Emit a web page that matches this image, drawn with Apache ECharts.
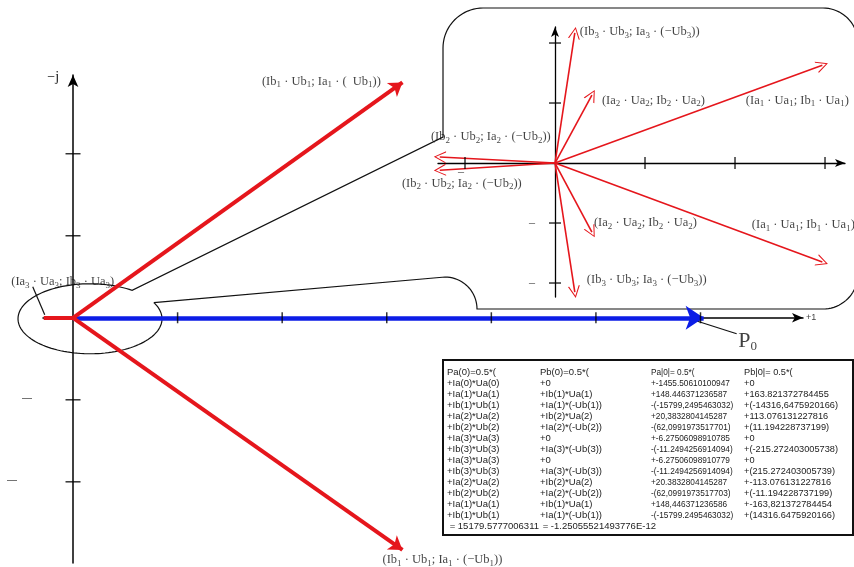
<!DOCTYPE html>
<html><head><meta charset="utf-8">
<script src="https://cdn.jsdelivr.net/npm/echarts@6/dist/echarts.min.js"></script>
<style>html,body{margin:0;padding:0;background:#fff}#c{width:854px;height:567px}</style>
</head><body><div id="c"></div>
<script>
// ---------------- data ----------------
// main phasor diagram (units of the main axes)
const mainVecX = [3.15, 3.15, -0.28];
const mainVecY = [2.87, -2.83, 0];
const mainVecLabels = [
  '(Ib_1 · Ub_1; Ia_1 · (  Ub_1))',
  '(Ib_1 · Ub_1; Ia_1 · (−Ub_1))',
  '(Ia_3 · Ua_3; Ib_3 · Ua_3)'
];
const p0Vec = [6.03, 0];
const mainXTicks = [1, 2, 3, 4, 5, 6];
const mainYTicks = [2, 1, -1, -2];
const mainDashTicks = [-1, -2];
const mainDashLabels = ['—', '—'];

// zoomed inset (units of the inset axes)
const insetVecX = [0.22, 0.41, 2.97, -1.28, -1.28, 0.41, 0.22, 2.97];
const insetVecY = [2.17, 1.13, 1.63, 0.10, -0.12, -1.15, -2.15, -1.65];
const insetVecLabels = [
  '(Ib_3 · Ub_3; Ia_3 · (−Ub_3))',
  '(Ia_2 · Ua_2; Ib_2 · Ua_2)',
  '(Ia_1 · Ua_1; Ib_1 · Ua_1)',
  '(Ib_2 · Ub_2; Ia_2 · (−Ub_2))',
  '(Ib_2 · Ub_2; Ia_2 · (−Ub_2))',
  '(Ia_2 · Ua_2; Ib_2 · Ua_2)',
  '(Ib_3 · Ub_3; Ia_3 · (−Ub_3))',
  '(Ia_1 · Ua_1; Ib_1 · Ua_1)'
];
const insetXTicks = [-1, 1, 2, 3];
const insetYTicks = [2, 1, -1, -2];

// table text
const tableCol1 = ['Pa(0)=0.5*(', '+Ia(0)*Ua(0)', '+Ia(1)*Ua(1)', '+Ib(1)*Ub(1)', '+Ia(2)*Ua(2)', '+Ib(2)*Ub(2)', '+Ia(3)*Ua(3)', '+Ib(3)*Ub(3)', '+Ia(3)*Ua(3)', '+Ib(3)*Ub(3)', '+Ia(2)*Ua(2)', '+Ib(2)*Ub(2)', '+Ia(1)*Ua(1)', '+Ib(1)*Ub(1)', ' = 15179.5777006311'];
const tableCol2 = ['Pb(0)=0.5*(', '+0', '+Ib(1)*Ua(1)', '+Ia(1)*(-Ub(1))', '+Ib(2)*Ua(2)', '+Ia(2)*(-Ub(2))', '+0', '+Ia(3)*(-Ub(3))', '+0', '+Ia(3)*(-Ub(3))', '+Ib(2)*Ua(2)', '+Ia(2)*(-Ub(2))', '+Ib(1)*Ua(1)', '+Ia(1)*(-Ub(1))', ' = -1.25055521493776E-12'];
const tableCol3 = ['Pa|0|= 0.5*(', '+-1455.50610100947', '+148.446371236587', '-(-15799,2495463032)', '+20,3832804145287', '-(62,0991973517701)', '+-6.27506098910785', '-(-11.2494256914094)', '+-6.27506098910779', '-(-11.2494256914094)', '+20.3832804145287', '-(62,0991973517703)', '+148,446371236586', '-(-15799.2495463032)', ''];
const tableCol4 = ['Pb|0|= 0.5*(', '+0', '+163.821372784455', '+(-14316,6475920166)', '+113.076131227816', '+(11.194228737199)', '+0', '+(-215.272403005738)', '+0', '+(215.272403005739)', '+-113.076131227816', '+(-11.194228737199)', '+-163,821372784454', '+(14316.6475920166)', ''];

// ---------------- style ----------------
const RED = '#e5161c', BLUE = '#0c1de6';
const SERIF = '"Liberation Serif","DejaVu Serif",serif';
const SANS = '"Liberation Sans",Arial,sans-serif';
const toRich = t => t.replace(/_(\w)/g, '{s|$1}');
const richStyles = { s: { fontSize: 9, fontFamily: SERIF, color: '#111', lineHeight: 7, verticalAlign: 'bottom' } };
const labelBase = { show: true, position: 'inside', fontFamily: SERIF, fontSize: 12.5, lineHeight: 16, color: '#111', rich: richStyles };

const mainLabelPos = [
  { offset: [-81, -1], align: 'center' },
  { offset: [40, 10], align: 'center' },
  { offset: [19, -36], align: 'center' }
];
const insetLabelPos = [
  { offset: [5, -1], align: 'left' },
  { offset: [10, 5], align: 'left' },
  { offset: [-25, 35], align: 'center' },
  { offset: [51, -20], align: 'center' },
  { offset: [22, 13], align: 'center' },
  { offset: [2, -9], align: 'left' },
  { offset: [12, -12], align: 'left' },
  { offset: [-19, -37], align: 'center' }
];
const chevron = 'path://M50,0 L100,100 L90,100 L50,18 L10,100 L0,100 Z';

const axisLineStyle = { color: '#000', width: 1.5 };
function mkAxis(grid, min, max, extra) {
  return Object.assign({
    gridIndex: grid, type: 'value', min: min, max: max,
    axisLine: { show: true, onZero: true, lineStyle: axisLineStyle, symbol: ['none', 'arrow'], symbolSize: [7, 11] },
    axisTick: { show: false }, axisLabel: { show: false }, splitLine: { show: false }
  }, extra || {});
}

const vec = (xs, ys, idx) => idx.map(i => ({ coords: [[0, 0], [xs[i], ys[i]]] }));

const option = {
  animation: false,
  backgroundColor: '#fff',
  grid: [
    { left: 43, right: 51, top: 75, bottom: 4 },
    { left: 438, right: 9, top: 27, bottom: 270 }
  ],
  xAxis: [
    mkAxis(0, -0.287, 6.98, { name: '+1', nameLocation: 'end', nameGap: 3,
      nameTextStyle: { fontSize: 9, color: '#444', fontFamily: SANS, align: 'left', verticalAlign: 'middle', padding: [30, 0, 0, 0] } }),
    mkAxis(1, -1.3, 3.222, { axisLine: { show: true, onZero: true, lineStyle: { color: '#000', width: 1.3 }, symbol: ['none', 'arrow'], symbolSize: [6, 10] } })
  ],
  yAxis: [
    mkAxis(0, -2.99, 2.96, { axisLine: { show: true, onZero: true, lineStyle: axisLineStyle, symbol: ['none', 'arrow'], symbolSize: [8, 12] },
      name: '−j', nameLocation: 'end', nameGap: -2,
      nameTextStyle: { fontSize: 14, color: '#111', fontFamily: SERIF, align: 'right', verticalAlign: 'middle', padding: [0, 14, 0, 0] } }),
    mkAxis(1, -2.233, 2.267, { axisLine: { show: true, onZero: true, lineStyle: { color: '#000', width: 1.3 }, symbol: ['none', 'arrow'], symbolSize: [6, 10] } })
  ],
  series: [
    // ---- main diagram ----
    { type: 'lines', coordinateSystem: 'cartesian2d', xAxisIndex: 0, yAxisIndex: 0, z: 4, clip: false,
      lineStyle: { color: BLUE, width: 4.5, opacity: 1 }, symbol: ['none', 'arrow'], symbolSize: 18,
      data: [{ coords: [[0, 0], p0Vec] }] },
    { type: 'lines', coordinateSystem: 'cartesian2d', xAxisIndex: 0, yAxisIndex: 0, z: 5, clip: false,
      lineStyle: { color: RED, width: 4, opacity: 1 }, symbol: ['none', 'arrow'], symbolSize: 13,
      data: vec(mainVecX, mainVecY, [0, 1]) },
    { type: 'lines', coordinateSystem: 'cartesian2d', xAxisIndex: 0, yAxisIndex: 0, z: 5, clip: false,
      lineStyle: { color: RED, width: 4, opacity: 1 }, symbol: ['none', 'none'],
      data: vec(mainVecX, mainVecY, [2]) },
    { type: 'scatter', xAxisIndex: 0, yAxisIndex: 0, z: 6, silent: true, clip: false, symbol: 'rect', symbolSize: [1.5, 11],
      itemStyle: { color: '#000' }, data: mainXTicks.map(v => [v, 0]) },
    { type: 'scatter', xAxisIndex: 0, yAxisIndex: 0, z: 6, silent: true, clip: false, symbol: 'rect', symbolSize: [15, 1.5],
      itemStyle: { color: '#000' }, data: mainYTicks.map(v => [0, v]) },
    { type: 'scatter', xAxisIndex: 0, yAxisIndex: 0, z: 6, silent: true, clip: false, symbolSize: 0,
      data: mainDashTicks.map((v, i) => ({ value: [0, v],
        label: { show: true, position: 'inside', formatter: mainDashLabels[i], fontSize: 10, color: '#111', fontFamily: SANS, offset: [i === 0 ? -46 : -61, -2] } })) },
    { type: 'scatter', xAxisIndex: 0, yAxisIndex: 0, z: 7, silent: true, clip: false, symbolSize: 0,
      data: mainVecX.map((x, i) => ({ value: [x, mainVecY[i]],
        label: Object.assign({}, labelBase, mainLabelPos[i], { formatter: toRich(mainVecLabels[i]) }) })) },
    { type: 'scatter', xAxisIndex: 0, yAxisIndex: 0, z: 7, silent: true, clip: false, symbolSize: 0,
      data: [{ value: p0Vec, label: { show: true, position: 'inside', offset: [44, 23], formatter: '{p|P}{q|0}',
        rich: { p: { fontSize: 22, fontFamily: SERIF, color: '#111', lineHeight: 24 }, q: { fontSize: 13, fontFamily: SERIF, color: '#111', lineHeight: 10, verticalAlign: 'bottom' } } } }] },
    // ---- inset ----
    { type: 'lines', coordinateSystem: 'cartesian2d', xAxisIndex: 1, yAxisIndex: 1, z: 5, clip: false,
      lineStyle: { color: RED, width: 1.6, opacity: 1 }, symbol: ['none', chevron], symbolSize: 12,
      data: vec(insetVecX, insetVecY, [0, 1, 2, 3, 4, 5, 6, 7]) },
    { type: 'scatter', xAxisIndex: 1, yAxisIndex: 1, z: 6, silent: true, clip: false, symbol: 'rect', symbolSize: [1.5, 12],
      itemStyle: { color: '#000' }, data: insetXTicks.map(v => [v, 0]) },
    { type: 'scatter', xAxisIndex: 1, yAxisIndex: 1, z: 6, silent: true, clip: false, symbol: 'rect', symbolSize: [12, 1.5],
      itemStyle: { color: '#000' }, data: insetYTicks.map(v => [0, v]) },
    { type: 'scatter', xAxisIndex: 1, yAxisIndex: 1, z: 6, silent: true, clip: false, symbolSize: 0,
      data: [[0, -1], [0, -2], [-1, 0]].map((p, i) => ({ value: p,
        label: { show: true, position: 'inside', formatter: '–', fontSize: 12, color: '#111', fontFamily: SERIF, offset: i < 2 ? [-23, 0] : [-4, 9] } })) },
    { type: 'scatter', xAxisIndex: 1, yAxisIndex: 1, z: 7, silent: true, clip: false, symbolSize: 0,
      data: insetVecX.map((x, i) => ({ value: [x, insetVecY[i]],
        label: Object.assign({}, labelBase, insetLabelPos[i], { formatter: toRich(insetVecLabels[i]) }) })) }
  ]
};

const chart = echarts.init(document.getElementById('c'));
chart.setOption(option);

// ---------------- decorations (callout, leaders, table) ----------------
const O = chart.convertToPixel({ gridIndex: 0 }, [0, 0]);
const I = chart.convertToPixel({ gridIndex: 1 }, [0, 0]);
const T3 = chart.convertToPixel({ gridIndex: 0 }, [mainVecX[2], mainVecY[2]]);
const TP = chart.convertToPixel({ gridIndex: 0 }, p0Vec);

function arc(cx, cy, rx, ry, a0, a1, n) {
  const pts = [];
  for (let k = 0; k <= n; k++) {
    const t = (a0 + (a1 - a0) * k / n) * Math.PI / 180;
    pts.push([cx + rx * Math.cos(t), cy + ry * Math.sin(t)]);
  }
  return pts;
}
const ec = [O[0] + 17, O[1] + 1];
let outline = arc(ec[0], ec[1], 72, 35, -27.6, 305.8, 120);
const bx = v => I[0] + v, by = v => I[1] + v;
outline.push([bx(-112), by(-26)]);
outline = outline.concat(arc(bx(-72), by(-115), 40, 40, 180, 270, 20));
outline = outline.concat(arc(bx(268), by(-120), 35, 35, 270, 360, 20));
outline = outline.concat(arc(bx(268), by(111), 35, 35, 0, 90, 20));
outline = outline.concat(arc(bx(-110), by(146), 32, 32, 0, -90, 20));
outline.push(outline[0]);

const tableFont = '9.5px ' + SANS;
const colX = [4, 97, 208, 301];
const colScale = [1, 1, 0.87, 0.97];
const cols = [tableCol1, tableCol2, tableCol3, tableCol4];

chart.setOption({
  graphic: [
    { type: 'polyline', z: 2, silent: true, shape: { points: outline }, style: { stroke: '#111', lineWidth: 1.2, fill: null } },
    { type: 'line', z: 3, silent: true, shape: { x1: T3[0] - 11, y1: T3[1] - 31, x2: T3[0] + 1, y2: T3[1] - 3 }, style: { stroke: '#111', lineWidth: 1.2 } },
    { type: 'line', z: 3, silent: true, shape: { x1: TP[0] - 14, y1: TP[1] + 1, x2: TP[0] + 33, y2: TP[1] + 16 }, style: { stroke: '#111', lineWidth: 1.2 } },
    { type: 'group', left: 442, top: 359, z: 10, children: [
      { type: 'rect', shape: { x: 0, y: 0, width: 410, height: 175 }, style: { fill: '#fff', stroke: '#111', lineWidth: 2 } }
    ].concat(cols.map((c, i) => ({ type: 'text', x: colX[i], y: 7, scaleX: colScale[i],
      style: { text: c.join('\n'), font: tableFont, lineHeight: 11, fill: '#222', textVerticalAlign: 'top' } }))) }
  ]
});
</script></body></html>
